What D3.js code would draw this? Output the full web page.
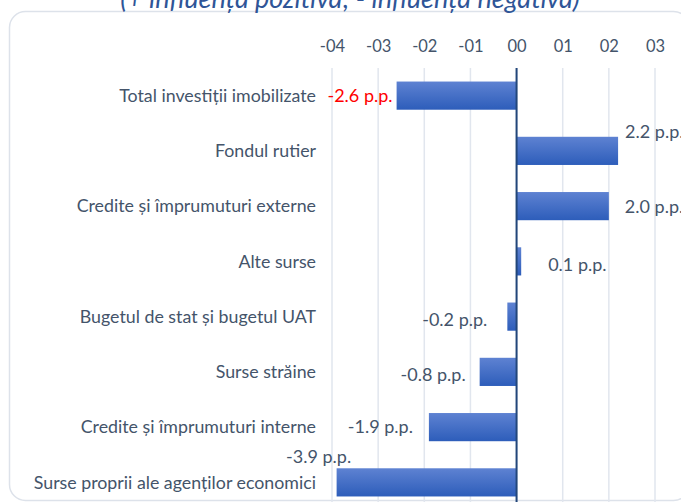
<!DOCTYPE html>
<html><head><meta charset="utf-8">
<script src="https://cdn.jsdelivr.net/npm/d3@7"></script>
<style>
html,body{margin:0;padding:0;background:#fff;}
svg{display:block;}
text{font-family:Lato,"Open Sans",sans-serif;}
</style></head>
<body>
<svg id="chart" width="681" height="502"></svg>
<script>
const title = "(+ influența pozitivă; - influența negativă)";
const categories = [
  "Total investiții imobilizate",
  "Fondul rutier",
  "Credite și împrumuturi externe",
  "Alte surse",
  "Bugetul de stat și bugetul UAT",
  "Surse străine",
  "Credite și împrumuturi interne",
  "Surse proprii ale agenților economici"
];
const values = [-2.6, 2.2, 2.0, 0.1, -0.2, -0.8, -1.9, -3.9];
const valueLabels = ["-2.6 p.p.","2.2 p.p.","2.0 p.p.","0.1 p.p.","-0.2 p.p.","-0.8 p.p.","-1.9 p.p.","-3.9 p.p."];
const tickValues = [-4,-3,-2,-1,0,1,2,3];
const tickLabels = ["-04","-03","-02","-01","00","01","02","03"];

// label placement (style/layout, relative to bar end)
const labelLayout = [
  {anchor:"end",   dx:-4,  dy:0},
  {anchor:"start", dx:7,   dy:-19},
  {anchor:"start", dx:16,  dy:1},
  {anchor:"start", dx:27,  dy:3},
  {anchor:"end",   dx:-20, dy:3},
  {anchor:"end",   dx:-14, dy:3},
  {anchor:"end",   dx:-16, dy:0},
  {anchor:"middle",dx:-18, dy:-26}
];

const svg = d3.select("#chart");
const textColor = "#44546a";

// border
svg.append("rect").attr("x",9.5).attr("y",11.5).attr("width",680).attr("height",489)
  .attr("rx",16).attr("ry",16).attr("fill","#fff").attr("stroke","#dde2ea").attr("stroke-width",1.5);

// title (partly cut off at top)
svg.append("text").attr("x",350).attr("y",8).attr("text-anchor","middle")
  .attr("font-size",27).attr("font-style","italic").attr("fill","#2f5597").text(title);

const x = d3.scaleLinear().domain([-4,3]).range([332,655]);
const y = d3.scaleBand().domain(categories).range([68,510]).paddingInner(0.49).paddingOuter(0.245);

const defs = svg.append("defs");
const grad = defs.append("linearGradient").attr("id","barGrad").attr("x1",0).attr("y1",0).attr("x2",0).attr("y2",1);
grad.append("stop").attr("offset","0%").attr("stop-color","#5e82d2");
grad.append("stop").attr("offset","100%").attr("stop-color","#2d5dba");

// gridlines
svg.append("g").selectAll("line").data(tickValues).join("line")
  .attr("x1",d=>x(d)).attr("x2",d=>x(d)).attr("y1",68).attr("y2",502)
  .attr("stroke","#e1e6ee").attr("stroke-width",1.5);

// top axis labels
const axis = d3.axisTop(x).tickValues(tickValues).tickFormat((d,i)=>tickLabels[i]).tickSize(0).tickPadding(0);
const ag = svg.append("g").attr("transform","translate(0,52)").call(axis);
ag.select(".domain").remove();
ag.selectAll("text").attr("font-size",16.5).attr("fill",textColor).attr("font-family","Lato,sans-serif");

// bars
svg.append("g").selectAll("rect").data(values).join("rect")
  .attr("x",d=>x(Math.min(0,d))).attr("width",d=>Math.abs(x(d)-x(0)))
  .attr("y",(d,i)=>y(categories[i])).attr("height",y.bandwidth())
  .attr("fill","url(#barGrad)");

// zero line
svg.append("line").attr("x1",x(0)).attr("x2",x(0)).attr("y1",68).attr("y2",502)
  .attr("stroke","#22467a").attr("stroke-width",2);

// category labels
svg.append("g").selectAll("text").data(categories).join("text")
  .attr("x",316).attr("y",d=>y(d)+y.bandwidth()/2).attr("dy","0.35em")
  .attr("text-anchor","end").attr("font-size",17.8).attr("fill",textColor).text(d=>d);

// value labels
svg.append("g").selectAll("text").data(values).join("text")
  .attr("x",(d,i)=>x(d)+labelLayout[i].dx)
  .attr("y",(d,i)=>y(categories[i])+y.bandwidth()/2+labelLayout[i].dy).attr("dy","0.35em")
  .attr("text-anchor",(d,i)=>labelLayout[i].anchor)
  .attr("font-size",18).attr("fill",(d,i)=>i===0?"#ff0000":textColor)
  .text((d,i)=>valueLabels[i]);
</script>
</body></html>
